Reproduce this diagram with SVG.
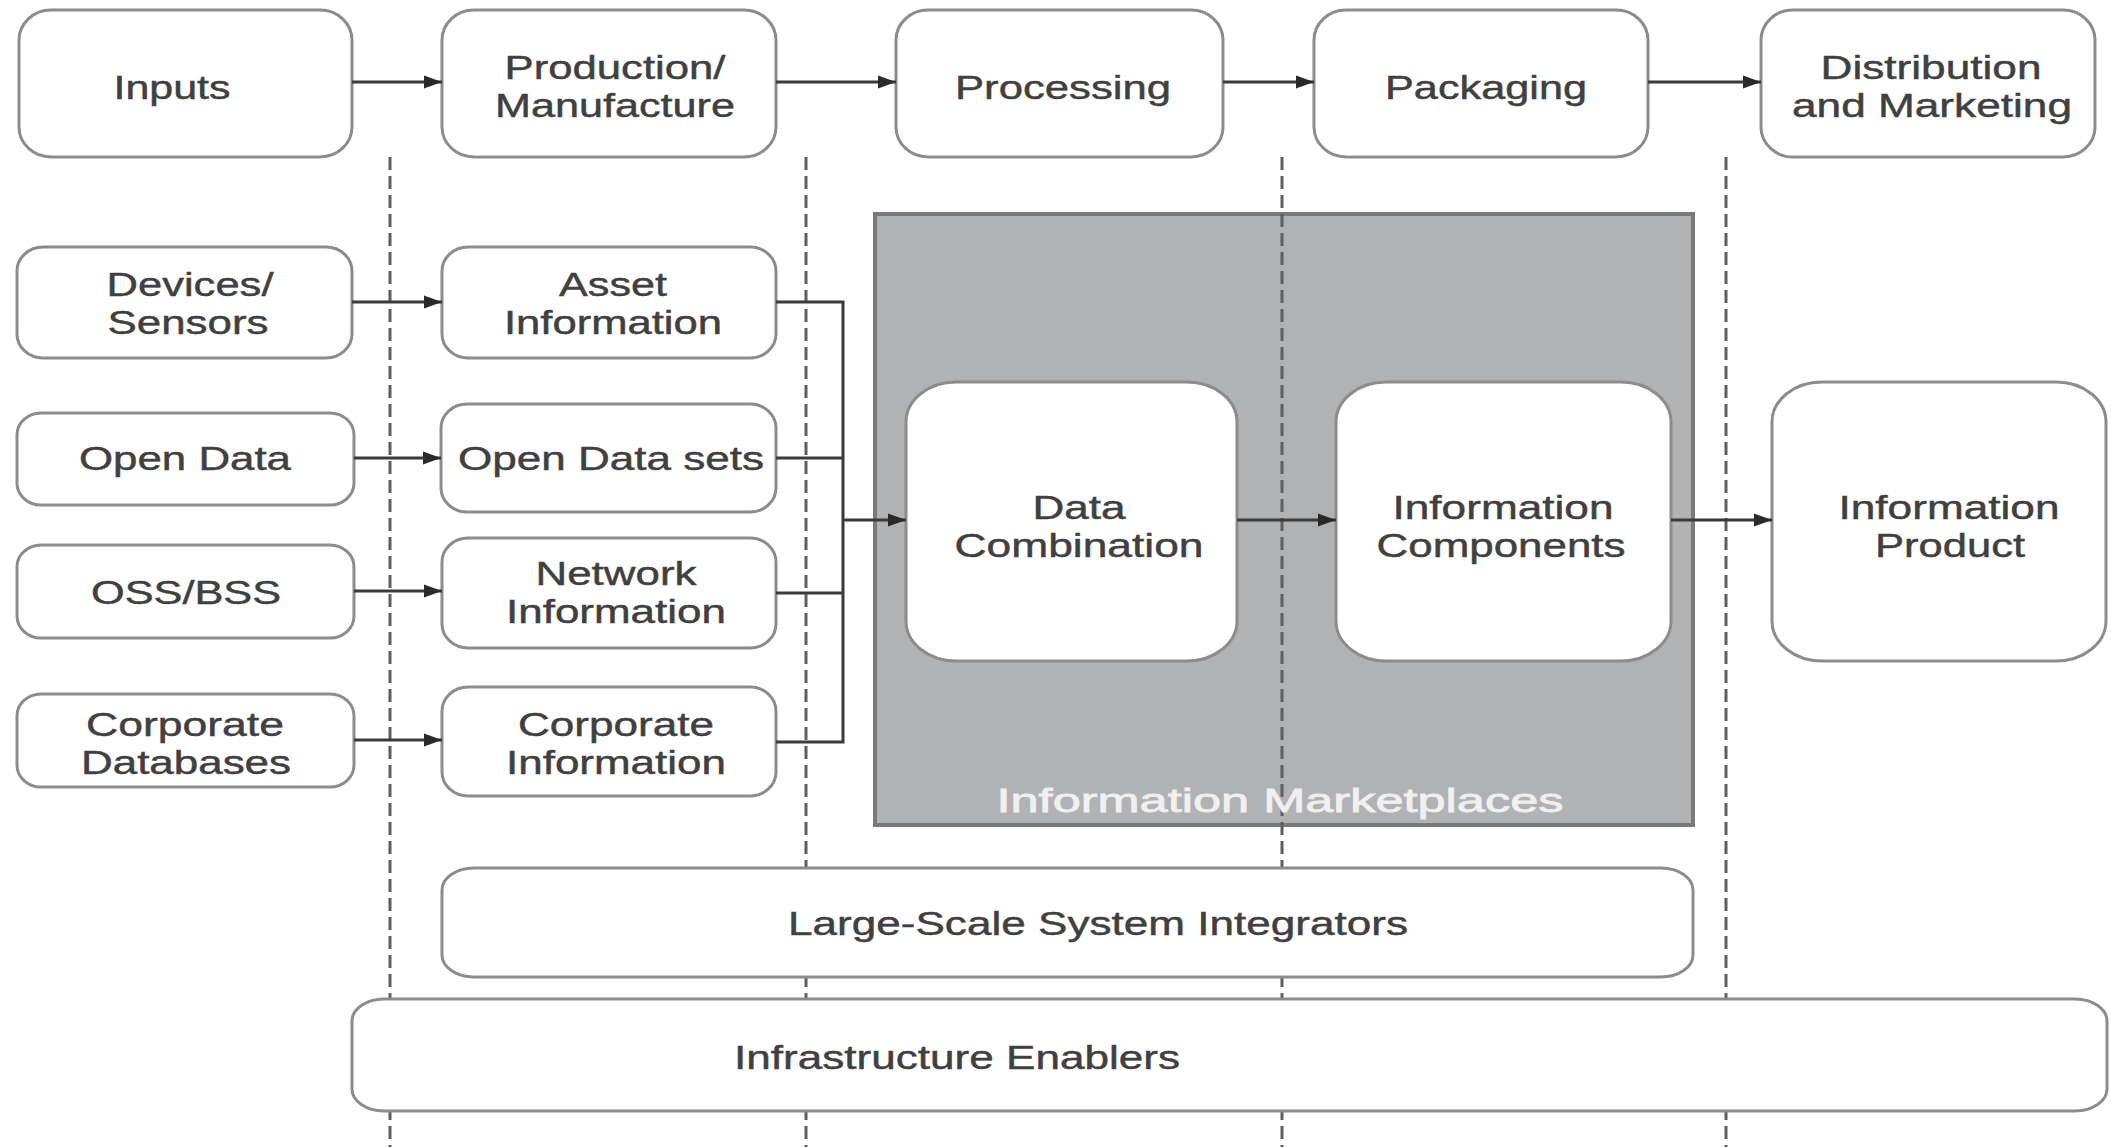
<svg xmlns="http://www.w3.org/2000/svg" width="2111" height="1147" viewBox="0 0 2111 1147">
<defs>
<style>
.box{fill:#ffffff;stroke:#8c8c8c;stroke-width:3}
.t{font-family:"Liberation Sans",Arial,sans-serif;font-size:33px;fill:#404040;stroke:#404040;stroke-width:0.45;text-anchor:middle}
.w{font-family:"Liberation Sans",Arial,sans-serif;font-size:34px;fill:#f0f0f0;stroke:#f0f0f0;stroke-width:0.8;text-anchor:middle}
.dash{stroke:#5e5e5e;stroke-width:3;stroke-dasharray:13 6;fill:none}
.c{stroke:#3a3a3a;stroke-width:3;fill:none}
.ca{stroke:#3a3a3a;stroke-width:3;fill:none;marker-end:url(#ah)}
</style>
<marker id="ah" markerUnits="userSpaceOnUse" markerWidth="20" markerHeight="16" refX="18" refY="8" orient="auto">
<path d="M0,1.5 L18,8 L0,14.5 z" fill="#2a2a2a"/>
</marker>
</defs>
<rect width="2111" height="1147" fill="#ffffff"/>

<g id="marketplaces">
<rect x="875" y="214" width="818" height="611" fill="#b0b2b4" stroke="#7a7a7a" stroke-width="4"/>
</g>

<g id="dividers">
<line class="dash" x1="390" y1="157" x2="390" y2="1147"/>
<line class="dash" x1="806" y1="157" x2="806" y2="1147"/>
<line class="dash" x1="1282" y1="157" x2="1282" y2="1147"/>
<line class="dash" x1="1726" y1="157" x2="1726" y2="1147"/>
</g>

<g id="marketplaces-label">
<text class="w" x="1280" y="812" textLength="567" lengthAdjust="spacingAndGlyphs">Information Marketplaces</text>
</g>

<g id="inputs"><rect class="box" x="19" y="10" width="333" height="147" rx="32" ry="30"/>
<text class="t" x="172" y="99" textLength="117" lengthAdjust="spacingAndGlyphs">Inputs</text></g>
<g id="production"><rect class="box" x="442" y="10" width="334" height="147" rx="32" ry="30"/>
<text class="t" x="615" y="79" textLength="221" lengthAdjust="spacingAndGlyphs">Production/</text>
<text class="t" x="615" y="117" textLength="240" lengthAdjust="spacingAndGlyphs">Manufacture</text></g>
<g id="processing"><rect class="box" x="896" y="10" width="327" height="147" rx="32" ry="30"/>
<text class="t" x="1063" y="99" textLength="216" lengthAdjust="spacingAndGlyphs">Processing</text></g>
<g id="packaging"><rect class="box" x="1314" y="10" width="334" height="147" rx="32" ry="30"/>
<text class="t" x="1486" y="99" textLength="202" lengthAdjust="spacingAndGlyphs">Packaging</text></g>
<g id="distribution"><rect class="box" x="1761" y="10" width="334" height="147" rx="32" ry="30"/>
<text class="t" x="1931" y="79" textLength="221" lengthAdjust="spacingAndGlyphs">Distribution</text>
<text class="t" x="1932" y="117" textLength="280" lengthAdjust="spacingAndGlyphs">and Marketing</text></g>

<g id="devices"><rect class="box" x="17" y="247" width="335" height="111" rx="26" ry="24"/>
<text class="t" x="190" y="296" textLength="167" lengthAdjust="spacingAndGlyphs">Devices/</text>
<text class="t" x="188" y="334" textLength="161" lengthAdjust="spacingAndGlyphs">Sensors</text></g>
<g id="asset"><rect class="box" x="442" y="247" width="334" height="111" rx="26" ry="24"/>
<text class="t" x="613" y="296" textLength="108" lengthAdjust="spacingAndGlyphs">Asset</text>
<text class="t" x="613" y="334" textLength="218" lengthAdjust="spacingAndGlyphs">Information</text></g>
<g id="opendata"><rect class="box" x="17" y="413" width="337" height="92" rx="24" ry="22"/>
<text class="t" x="185" y="470" textLength="212" lengthAdjust="spacingAndGlyphs">Open Data</text></g>
<g id="opendatasets"><rect class="box" x="441" y="404" width="335" height="108" rx="26" ry="24"/>
<text class="t" x="611" y="470" textLength="306" lengthAdjust="spacingAndGlyphs">Open Data sets</text></g>
<g id="ossbss"><rect class="box" x="17" y="545" width="337" height="93" rx="24" ry="22"/>
<text class="t" x="186" y="604" textLength="190" lengthAdjust="spacingAndGlyphs">OSS/BSS</text></g>
<g id="network"><rect class="box" x="442" y="538" width="334" height="110" rx="26" ry="24"/>
<text class="t" x="616" y="585" textLength="161" lengthAdjust="spacingAndGlyphs">Network</text>
<text class="t" x="616" y="623" textLength="220" lengthAdjust="spacingAndGlyphs">Information</text></g>
<g id="corpdb"><rect class="box" x="17" y="694" width="337" height="93" rx="24" ry="22"/>
<text class="t" x="185" y="736" textLength="198" lengthAdjust="spacingAndGlyphs">Corporate</text>
<text class="t" x="186" y="774" textLength="210" lengthAdjust="spacingAndGlyphs">Databases</text></g>
<g id="corpinfo"><rect class="box" x="442" y="687" width="334" height="109" rx="26" ry="24"/>
<text class="t" x="616" y="736" textLength="196" lengthAdjust="spacingAndGlyphs">Corporate</text>
<text class="t" x="616" y="774" textLength="220" lengthAdjust="spacingAndGlyphs">Information</text></g>

<g id="datacombination"><rect class="box" x="906" y="382" width="331" height="279" rx="50" ry="40"/>
<text class="t" x="1079" y="519" textLength="93" lengthAdjust="spacingAndGlyphs">Data</text>
<text class="t" x="1079" y="557" textLength="249" lengthAdjust="spacingAndGlyphs">Combination</text></g>
<g id="infocomponents"><rect class="box" x="1336" y="382" width="335" height="279" rx="50" ry="40"/>
<text class="t" x="1503" y="519" textLength="221" lengthAdjust="spacingAndGlyphs">Information</text>
<text class="t" x="1501" y="557" textLength="249" lengthAdjust="spacingAndGlyphs">Components</text></g>
<g id="infoproduct"><rect class="box" x="1772" y="382" width="334" height="279" rx="50" ry="40"/>
<text class="t" x="1949" y="519" textLength="221" lengthAdjust="spacingAndGlyphs">Information</text>
<text class="t" x="1950" y="557" textLength="150" lengthAdjust="spacingAndGlyphs">Product</text></g>

<g id="integrators"><rect class="box" x="442" y="868" width="1251" height="109" rx="32" ry="22"/>
<text class="t" x="1098" y="935" textLength="620" lengthAdjust="spacingAndGlyphs">Large-Scale System Integrators</text></g>
<g id="enablers"><rect class="box" x="352" y="999" width="1755" height="112" rx="32" ry="22"/>
<text class="t" x="957" y="1069" textLength="446" lengthAdjust="spacingAndGlyphs">Infrastructure Enablers</text></g>

<g id="connectors">
<path class="ca" d="M352,82 H442"/>
<path class="ca" d="M776,82 H896"/>
<path class="ca" d="M1223,82 H1314"/>
<path class="ca" d="M1648,82 H1761"/>
<path class="ca" d="M352,302 H442"/>
<path class="ca" d="M354,458 H441"/>
<path class="ca" d="M354,591 H442"/>
<path class="ca" d="M354,740 H442"/>
<path class="c" d="M776,302 H843 V742 H776"/>
<path class="c" d="M776,458 H843"/>
<path class="c" d="M776,593 H843"/>
<path class="ca" d="M843,520 H906"/>
<path class="ca" d="M1237,520 H1336"/>
<path class="ca" d="M1671,520 H1772"/>
</g>
</svg>
